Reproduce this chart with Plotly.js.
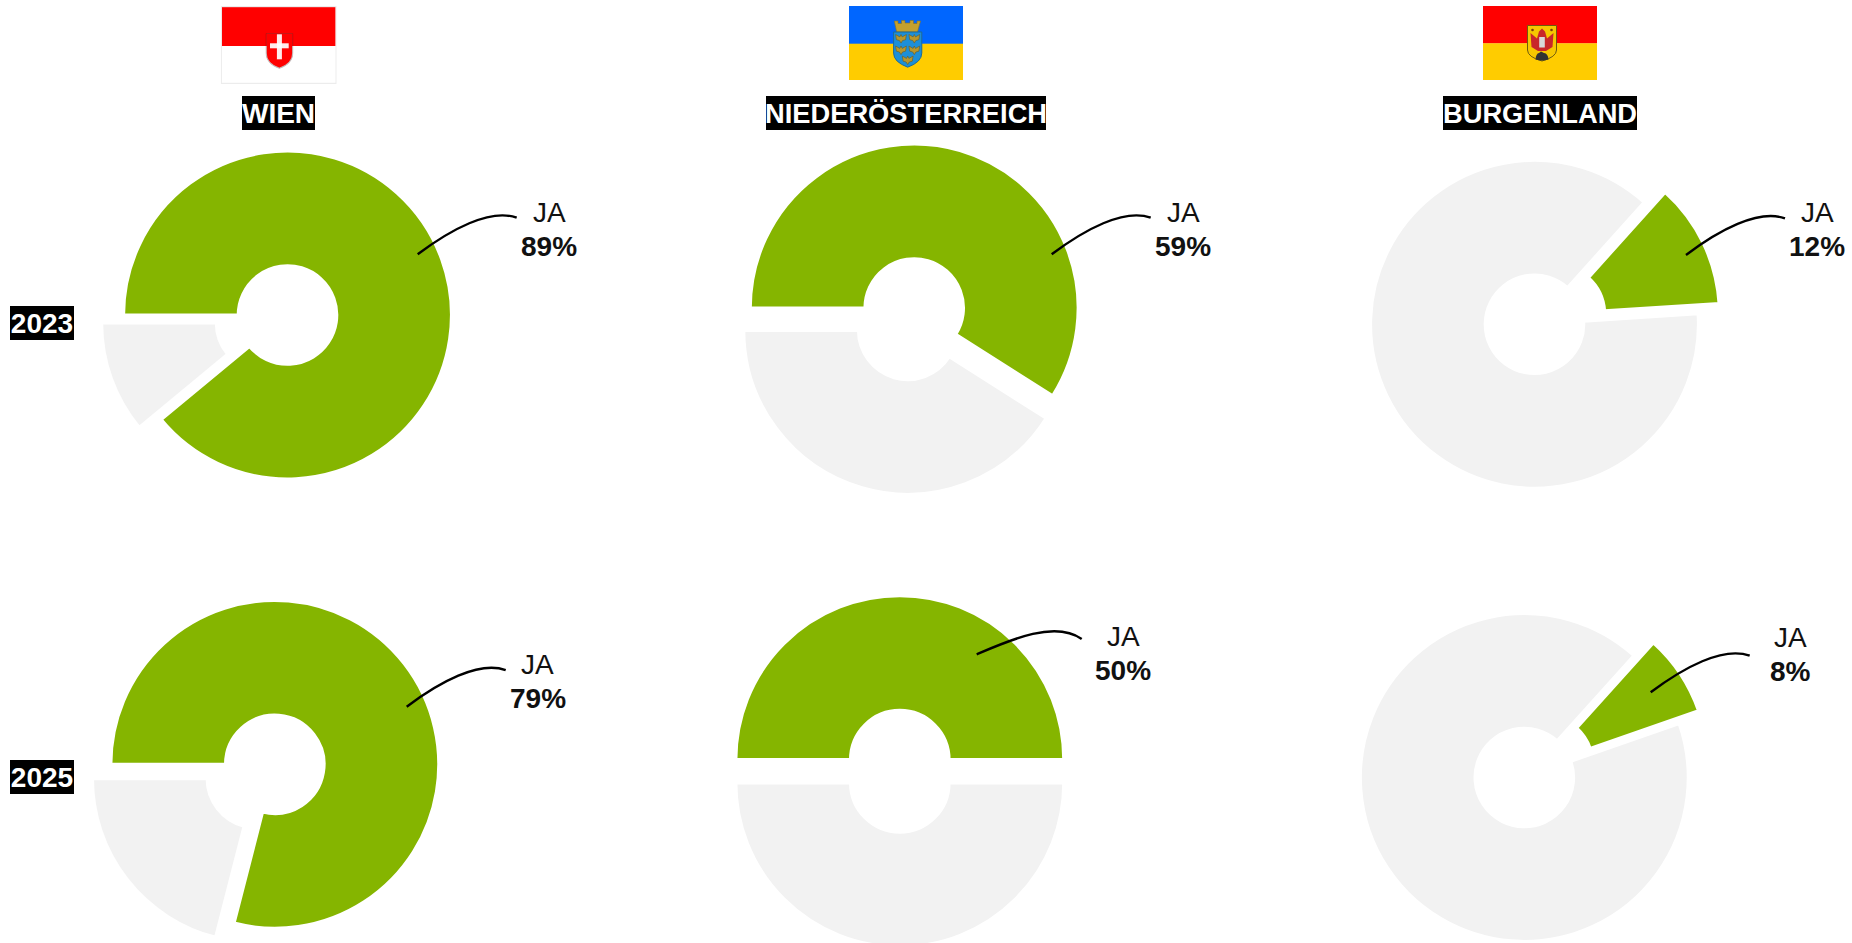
<!DOCTYPE html>
<html><head><meta charset="utf-8">
<script src="https://cdn.plot.ly/plotly-3.0.1.min.js"></script>
<style>html,body{margin:0;padding:0;background:#fff;overflow:hidden;width:1852px;height:943px}#c{width:1852px;height:1000px}
.pielayer path{shape-rendering:geometricPrecision !important}</style>
</head><body><div id="c"></div>
<script>
// ---- data ----
const regions = ['WIEN', 'NIEDERÖSTERREICH', 'BURGENLAND'];
const years = ['2023', '2025'];
const categories = ['JA', 'NEIN'];
const ja2023 = [89, 59, 12.3];
const nein2023 = [11, 41, 87.7];
const ja2025 = [79, 50, 8];
const nein2025 = [21, 50, 92];
const jaLabels2023 = ['89%', '59%', '12%'];
const jaLabels2025 = ['79%', '50%', '8%'];
const sliceColors = ['#85b500', '#f2f2f2'];

// ---- layout (pixels in the 1852-wide page) ----
const W = 1852, H = 1000, R = 164, HOLE = 0.3, PULL = 0.142;
const fx = x => x / W, fy = y => 1 - y / H;
const panels = [
  {v:[ja2023[0],nein2023[0]], lab:jaLabels2023[0], cx:287.5,  cy:315,   rot:270, pull:[0,PULL], jaX:549,  jaY:212.3, pY:246.8, pX:548.5, l:[417.7,254.3]},
  {v:[ja2023[1],nein2023[1]], lab:jaLabels2023[1], cx:914.2,  cy:308.0, rot:270, pull:[0,PULL], jaX:1183, jaY:212.7, pY:246.8, pX:1183,  l:[1051.7,254.3]},
  {v:[ja2023[2],nein2023[2]], lab:jaLabels2023[2], cx:1534.5, cy:324.3, rot:42,  pull:[PULL,0], jaX:1817, jaY:212.8, pY:246.8, pX:1817,  l:[1686,255]},
  {v:[ja2025[0],nein2025[0]], lab:jaLabels2025[0], cx:274.8,  cy:764.3, rot:270, pull:[0,PULL], jaX:537.8,jaY:664.3, pY:698.5, pX:537.5, l:[406.7,706.7]},
  {v:[ja2025[1],nein2025[1]], lab:jaLabels2025[1], cx:899.8,  cy:759.6, rot:270, pull:[0,PULL], jaX:1123, jaY:636,   pY:670.2, pX:1123.3,l:[976.7,654.3], curve:[33.3,-14.3,78.3,-34.3,105,-15.3]},
  {v:[ja2025[2],nein2025[2]], lab:jaLabels2025[2], cx:1524.3, cy:777.5, rot:42,  pull:[PULL,0], jaX:1790, jaY:637.3, pY:671.5, pX:1790,  l:[1650.7,692.3]}
];
const defaultCurve = [32.3,-24.3,72.3,-46.3,99,-36.6];

const half = R * (1 + PULL);
const traces = panels.map(p => ({
  type:'pie', labels:categories, values:p.v, sort:false, direction:'clockwise',
  rotation:p.rot, hole:HOLE, pull:p.pull, textinfo:'none', showlegend:false, hoverinfo:'label+percent',
  marker:{colors:sliceColors, line:{color:'#ffffff', width:3.2}},
  domain:{x:[fx(p.cx-half), fx(p.cx+half)], y:[fy(p.cy+half), fy(p.cy-half)]}
}));

const FONT = 'Arial, "Liberation Sans", sans-serif';
const annotations = [];
function txt(t, x, y, bold){
  annotations.push({text:bold?'<b>'+t+'</b>':t, x:fx(x), y:fy(y), xref:'paper', yref:'paper',
    xanchor:'center', yanchor:'middle', showarrow:false, borderpad:0,
    font:{family:FONT, size:28, color:'#111'}});
}
function box(t, cx, cy, w, h, size){
  annotations.push({text:'<b>'+t+'</b>', x:fx(cx), y:fy(cy), xref:'paper', yref:'paper',
    xanchor:'center', yanchor:'middle', showarrow:false, borderpad:0, borderwidth:0,
    width:w, height:h, align:'center', valign:'middle', bgcolor:'#000',
    font:{family:FONT, size:size, color:'#fff'}});
}
box(regions[0], 278.5, 113, 73, 34, 28);
box(regions[1], 906, 113, 280, 34, 27.3);
box(regions[2], 1540, 113, 194, 34, 27.3);
box(years[0], 42, 323, 64, 34, 28);
box(years[1], 42, 777, 64, 34, 28);
panels.forEach(p => { txt(categories[0], p.jaX, p.jaY, false); txt(p.lab, p.pX, p.pY, true); });

const shapes = panels.map(p => {
  const c = p.curve || defaultCurve, [x,y] = p.l;
  const P = (dx,dy) => fx(x+dx)+' '+fy(y+dy);
  return {type:'path', xref:'paper', yref:'paper', layer:'above',
    path:'M '+P(0,0)+' C '+P(c[0],c[1])+', '+P(c[2],c[3])+', '+P(c[4],c[5]),
    line:{color:'#000', width:2.4}, fillcolor:'rgba(0,0,0,0)'};
});

// ---- flags (decoration) ----
const BLUR = '<defs><filter id="b" x="-10%" y="-10%" width="120%" height="120%"><feGaussianBlur stdDeviation=".35"/></filter></defs>';
const svg = (w,h,body) => 'data:image/svg+xml;charset=utf-8,' + encodeURIComponent(
  '<svg xmlns="http://www.w3.org/2000/svg" width="'+w*4+'" height="'+h*4+'" viewBox="0 0 '+w+' '+h+'">'+BLUR+body+'</svg>');
const eagle = (x,y) => '<path transform="translate('+x+' '+y+')" d="M-5.4-4 L-1.2-1.6 L0-4 L1.2-1.6 L5.4-4 L4.6 1.2 L1.6 2 L0 4.6 L-1.6 2 L-4.6 1.2Z" fill="#b8962a" stroke="#5f5a2a" stroke-width=".6"/>';
const wienFlag = svg(116,78,
  '<rect width="116" height="78" fill="#fff"/><rect x="1" y="1" width="114" height="39" fill="#ff0000"/>'+
  '<rect x=".6" y=".6" width="114.8" height="76.8" fill="none" stroke="#ececec" stroke-width="1.2"/>'+
  '<g filter="url(#b)"><path d="M45.5 27.5H72V47Q72 57.5 58.7 62.3Q45.5 57.5 45.5 47Z" fill="#ff0000"/>'+
  '<path d="M45.5 40V47Q45.5 57.5 58.7 62.3Q72 57.5 72 47V40" fill="none" stroke="#c4bcbc" stroke-width="1"/>'+
  '<path d="M45.5 40V27.5H72V40" fill="none" stroke="#b01818" stroke-width=".7"/>'+
  '<rect x="56.2" y="28.3" width="5" height="25" fill="#fff" fill-opacity=".92"/><rect x="49.3" y="37.3" width="18.7" height="5" fill="#fff" fill-opacity=".92"/></g>');
const noeFlag = svg(114,74,
  '<rect width="114" height="38" fill="#0066ff"/><rect y="37.7" width="114" height="36.3" fill="#ffcc00"/>'+
  '<g filter="url(#b)"><path d="M45.3 15H49V17.5H52.5V14.5H56V17H61V14.5H64.5V17.5H68V15H71.5L68.5 26H47.7Z" fill="#c4a02e" stroke="#8a7220" stroke-width=".6"/>'+
  '<path d="M44.6 26H72.8V47Q72.8 56 58.7 61.2Q44.6 56 44.6 47Z" fill="#1f8fd8" stroke="#1c6a96" stroke-width="1"/>'+
  eagle(52,32.5)+eagle(65.3,32.5)+eagle(52,44)+eagle(65.3,44)+eagle(58.7,54)+'</g>');
const bglFlag = svg(114,74,
  '<rect width="114" height="37.5" fill="#ff0000"/><rect y="37.3" width="114" height="36.7" fill="#ffcc00"/>'+
  '<g filter="url(#b)"><path d="M44.5 19.5H73.5V44Q73.5 51 59 55Q44.5 51 44.5 44Z" fill="#f6c700" stroke="#6e5a10" stroke-width="1"/>'+
  '<path d="M47.5 27L54 32.5L56 25.5L59 22.5L62 25.5L64 32.5L70.5 27L69.5 41L63 45H55L48.5 41Z" fill="#c8262c"/>'+
  '<rect x="56.2" y="31" width="5.6" height="10.5" fill="#d8d8d8"/>'+
  '<path d="M52.5 53.5Q53 47.5 56 47L58 45.5L61 47Q65 47.5 65.5 53.5Q59 55.5 52.5 53.5Z" fill="#333"/>'+
  '<circle cx="49.5" cy="24" r="1.3" fill="#7a3a10"/><circle cx="68.5" cy="24" r="1.3" fill="#7a3a10"/></g>');
const flag = (src,x,y,w,h) => ({source:src, xref:'paper', yref:'paper', x:fx(x), y:fy(y), sizex:w/W, sizey:h/H,
  xanchor:'left', yanchor:'top', sizing:'stretch', layer:'above'});
const images = [flag(wienFlag,220.7,6,116,78), flag(noeFlag,849,6,114,74), flag(bglFlag,1483,6,114,74)];

Plotly.newPlot('c', traces, {
  width:W, height:H, margin:{l:0,r:0,t:0,b:0,pad:0}, paper_bgcolor:'#fff', plot_bgcolor:'#fff',
  showlegend:false, annotations, shapes, images
}, {displayModeBar:false, responsive:false});
</script></body></html>
